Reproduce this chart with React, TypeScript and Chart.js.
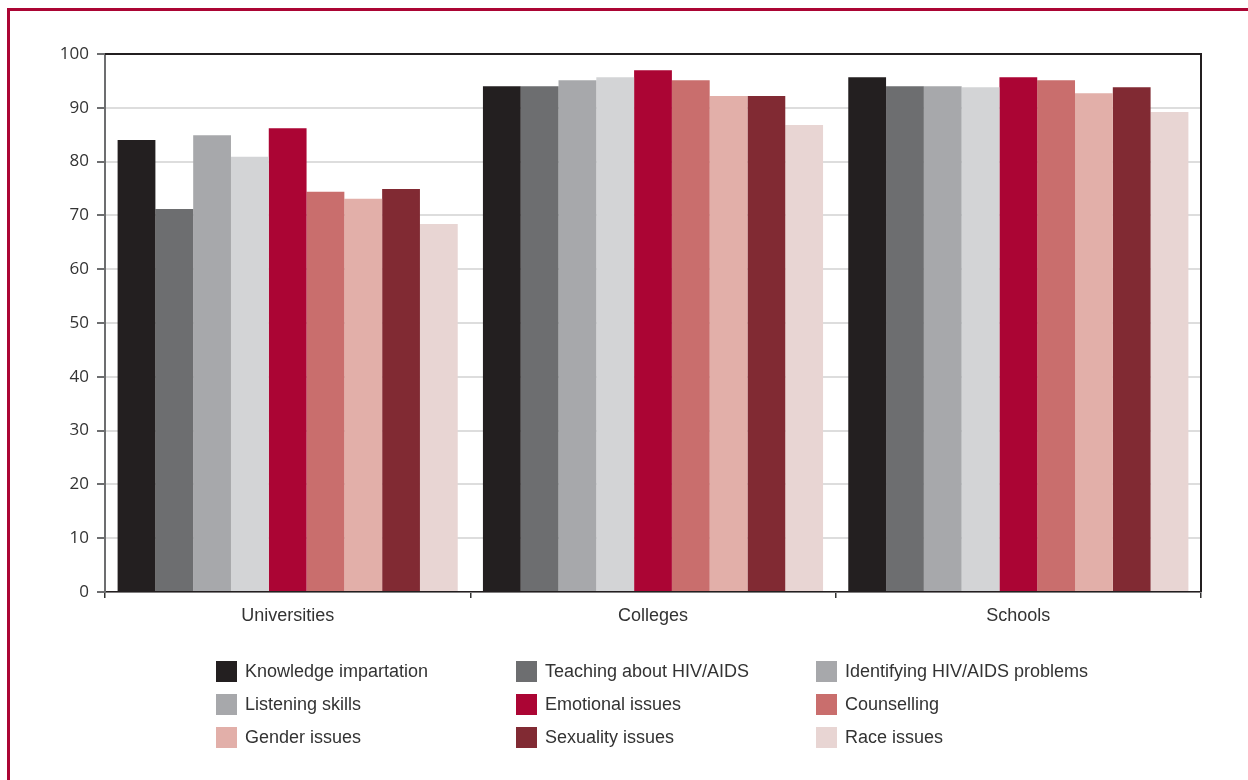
import React, { useEffect, useRef } from "react";
import { Chart, registerables } from "chart.js";

Chart.register(...registerables);

const categories = ["Universities", "Colleges", "Schools"];
const seriesNames = [
  "Knowledge impartation",
  "Teaching about HIV/AIDS",
  "Identifying HIV/AIDS problems",
  "Listening skills",
  "Emotional issues",
  "Counselling",
  "Gender issues",
  "Sexuality issues",
  "Race issues",
];
const knowledge = [84.0, 94.0, 95.7];
const teaching = [71.2, 94.0, 94.0];
const identifying = [84.9, 95.1, 94.0];
const listening = [80.9, 95.7, 93.8];
const emotional = [86.2, 97.0, 95.7];
const counselling = [74.4, 95.1, 95.1];
const gender = [73.1, 92.2, 92.7];
const sexuality = [74.9, 92.2, 93.8];
const race = [68.4, 86.8, 89.2];
const seriesValues = [knowledge, teaching, identifying, listening, emotional, counselling, gender, sexuality, race];
const barColors = ["#231f20", "#6d6e70", "#a7a8ab", "#d3d4d6", "#ab0534", "#c96e6d", "#e2afa9", "#812a33", "#e8d5d3"];
const legendColors = ["#231f20", "#6d6e70", "#a7a8ab", "#a7a8ab", "#ab0534", "#c96e6d", "#e2afa9", "#812a33", "#e8d5d3"];
const yMin = 0;
const yMax = 100;
const yStep = 10;

const FONT = "'Liberation Sans', Arial, sans-serif";

const framePlugin = {
  id: "frameAndLegend",
  afterDraw(chart: any) {
    const ctx = chart.ctx;
    const a = chart.chartArea;
    ctx.save();
    ctx.strokeStyle = "#231f20";
    ctx.lineWidth = 2;
    ctx.beginPath();
    ctx.moveTo(a.left, a.top);
    ctx.lineTo(a.right, a.top);
    ctx.lineTo(a.right, a.bottom);
    ctx.stroke();

    // legend grid (3 columns)
    const colX = [206, 506, 806];
    const rowY = [650, 683, 716];
    const sw = 21;
    ctx.font = `18px ${FONT}`;
    ctx.textBaseline = "middle";
    ctx.textAlign = "left";
    seriesNames.forEach((name, i) => {
      const c = i % 3;
      const r = Math.floor(i / 3);
      const x = colX[c];
      const y = rowY[r];
      ctx.fillStyle = legendColors[i];
      ctx.fillRect(x, y, sw, sw);
      ctx.fillStyle = "#333333";
      ctx.fillText(name, x + 29, y + sw / 2 + 1);
    });
    ctx.restore();
  },
};

export default function App() {
  const ref = useRef<HTMLCanvasElement>(null);
  useEffect(() => {
    if (!ref.current) return;
    const chart = new Chart(ref.current, {
      type: "bar",
      data: {
        labels: categories,
        datasets: seriesNames.map((name, i) => ({
          label: name,
          data: seriesValues[i],
          backgroundColor: barColors[i],
          borderWidth: 0,
          categoryPercentage: 0.931,
          barPercentage: 1.0,
        })),
      },
      options: {
        responsive: false,
        animation: false,
        layout: { padding: { left: 0, top: 43, right: 47, bottom: 148 } },
        plugins: {
          legend: { display: false },
          tooltip: { enabled: false },
        },
        scales: {
          x: {
            offset: true,
            grid: {
              display: true,
              offset: true,
              drawOnChartArea: false,
              drawTicks: true,
              tickLength: 6,
              tickColor: "#333333",
              lineWidth: 1.5,
            },
            border: { display: true, color: "#231f20", width: 1.5 },
            ticks: { color: "#333333", font: { family: FONT, size: 18 }, padding: 7 },
            afterFit: (s: any) => {
              s.height = 40;
            },
          },
          y: {
            min: yMin,
            max: yMax,
            grid: {
              color: "#dddddd",
              lineWidth: 2,
              drawTicks: true,
              tickLength: 8,
              tickColor: "#6d6e70",
            },
            border: { display: true, color: "#6d6e70", width: 2 },
            ticks: {
              stepSize: yStep,
              color: "#333333",
              font: { family: "'Open Sans', sans-serif", size: 17 },
              padding: 8,
            },
            afterFit: (s: any) => {
              s.width = 95;
            },
          },
        },
      },
      plugins: [framePlugin],
    });
    return () => chart.destroy();
  }, []);

  return (
    <div
      style={{
        position: "fixed",
        left: 7,
        top: 8,
        width: 1238,
        height: 769,
        borderTop: "3px solid #ab0534",
        borderLeft: "3px solid #ab0534",
        background: "#ffffff",
        overflow: "hidden",
      }}
    >
      <canvas ref={ref} width={1238} height={769} style={{ display: "block" }} />
    </div>
  );
}
